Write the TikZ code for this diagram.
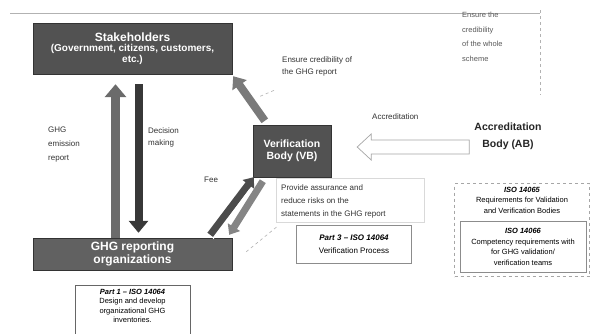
\documentclass[tikz,border=0pt]{standalone}
\usepackage{fontspec}
\setmainfont{Liberation Sans}
\usetikzlibrary{arrows.meta,calc}
\begin{document}
\begin{tikzpicture}[x=1pt,y=-1pt,
  darkbox/.style={draw=black!80, fill=black!68, text=white, font=\bfseries, inner sep=0pt, align=center},
  note/.style={inner sep=0pt, align=left, text=black!80},
  isobox/.style={draw=black!45, inner sep=0pt, align=center},
  fatup/.style={line width=9pt, draw=black!58, -{Triangle[width=21pt,length=13pt]}},
  fatdown/.style={line width=8pt, draw=black!78, -{Triangle[width=19pt,length=12pt]}},
  diag/.style={line width=8pt, draw=black!52, -{Triangle[width=17pt,length=11pt]}},
  feeup/.style={line width=7pt, draw=black!70, -{Triangle[width=14pt,length=9pt]}},
  feedown/.style={line width=7pt, draw=black!48, -{Triangle[width=14pt,length=9pt]}},
  faint/.style={draw=black!30, dashed, line width=0.6pt}
]
\useasboundingbox (0,0) rectangle (602,333);
\fill[white] (0,0) rectangle (602,333);

% outer faint frame of the whole scheme
\draw[draw=black!30, line width=1pt] (10,13) -- (540,13);
\draw[faint] (540,10) -- (540,95);

\node[note, anchor=north west, font=\fontsize{7.5}{14.5}\selectfont, text=black!65] (scheme) at (462,12)
  {Ensure the\\credibility\\of the whole\\scheme};

% main boxes
\node[darkbox, minimum width=199pt, minimum height=51pt] (sh) at (132.5,48.5)
  {{\fontsize{12}{13}\selectfont Stakeholders}\\[-1.5pt]
   {\fontsize{10}{11}\selectfont (Government, citizens, customers,}\\[-1.5pt]
   {\fontsize{10}{11}\selectfont etc.)}};

\node[darkbox, fill=black!62, minimum width=199pt, minimum height=32pt] (rep) at (132.5,254)
  {{\fontsize{12}{12}\selectfont GHG reporting}\\[0.5pt]{\fontsize{12}{12}\selectfont organizations}};

\node[darkbox, minimum width=78pt, minimum height=52pt] (vb) at (292,151)
  {{\fontsize{10.5}{14}\selectfont Verification}\\{\fontsize{10.5}{13}\selectfont Body (VB)}};

\node[inner sep=0pt, align=center, font=\fontsize{10.5}{17}\selectfont\bfseries, text=black!85] (ab) at (508,136)
  {Accreditation\\Body (AB)};

% texts
\node[note, anchor=north west, font=\fontsize{8}{12.5}\selectfont] (ensure) at (282,56)
  {Ensure credibility of\\the GHG report};
\node[note, anchor=north west, font=\fontsize{8}{14}\selectfont] (ghg) at (48,127)
  {GHG\\emission\\report};
\node[note, anchor=north west, font=\fontsize{8}{12.5}\selectfont] (dec) at (148,127)
  {Decision\\making};
\node[note, anchor=west, font=\fontsize{8}{9}\selectfont] (acclab) at (372,117) {Accreditation};
\node[note, anchor=west, font=\fontsize{8}{9}\selectfont] (fee) at (204,180) {Fee};
\node[note, anchor=north west, font=\fontsize{8}{13}\selectfont] (prov) at (281,184)
  {Provide assurance and\\reduce risks on the\\statements in the GHG report};
\draw[draw=black!15, line width=0.6pt] (276,178) rectangle (424,222);

% standard boxes
\node[isobox, minimum width=115pt, minimum height=38pt, font=\fontsize{8}{13}\selectfont] (p3) at (354,244)
  {\textbf{\textit{Part 3 – ISO 14064}}\\Verification Process};
\node[isobox, anchor=north, minimum width=115pt, minimum height=60pt, font=\fontsize{7.5}{9.5}\selectfont, draw=black!60] (p1) at (132.5,285)
  {\textbf{\textit{Part 1 – ISO 14064}}\\Design and develop\\organizational GHG\\inventories.\\[9pt]};
\node[isobox, minimum width=135pt, minimum height=93pt, dashed, draw=black!35] (iso65) at (522,230) {};
\node[anchor=north, inner sep=0pt, align=center, font=\fontsize{7.5}{10.5}\selectfont] (t65) at (522,187)
  {\textbf{\textit{ISO 14065}}\\Requirements for Validation\\and Verification Bodies};
\node[isobox, minimum width=126pt, minimum height=51pt, font=\fontsize{7.5}{10.5}\selectfont] (iso66) at (523,247)
  {\textbf{\textit{ISO 14066}}\\Competency requirements with\\for GHG validation/\\verification teams};

% vertical arrows
\draw[fatup] ([xshift=-17pt]rep.north) -- ([xshift=-17pt,yshift=-10pt]sh.south);
\draw[fatdown] ([xshift=6pt,yshift=-10pt]sh.south) -- ([xshift=6pt,yshift=5pt]rep.north);

% diagonal arrow to stakeholders
\coordinate (dtail) at ($(vb.north west)+(12,-4)$);
\draw[diag] (dtail) -- ([xshift=1pt,yshift=-2pt]sh.south east);
\draw[faint] (ensure.south west) ++(-8,14) -- ++(-14,6);

% fee arrows
\draw[feeup] ([xshift=-22pt,yshift=3pt]rep.north east) -- ([xshift=1pt]vb.south west);
\draw[white, line width=1pt] ([xshift=-19pt,yshift=-1pt]rep.north east) -- ([xshift=-3pt,yshift=-12pt]vb.south west);
\draw[feedown] ([xshift=10pt,yshift=-4pt]vb.south west) -- ([xshift=-3pt,yshift=3pt]rep.north east);
\draw[faint] ([xshift=14pt,yshift=-14pt]rep.north east) -- ([xshift=-3pt,yshift=-8pt]prov.west |- prov.south);

% accreditation arrow (hollow)
\coordinate (atip) at ($(vb.east)+(26,-4)$);
\coordinate (atail) at ($(ab.west)+(-5,13)$);
\draw[draw=black!35, fill=white, line width=0.7pt]
  (atip) -- ++(14,-13) -- ++(0,6) -- (atail |- 0,{151-4-7}) -- (atail |- 0,{151-4+7}) -- ($(atip)+(14,7)$) -- ++(0,6) -- cycle;
\end{tikzpicture}
\end{document}
